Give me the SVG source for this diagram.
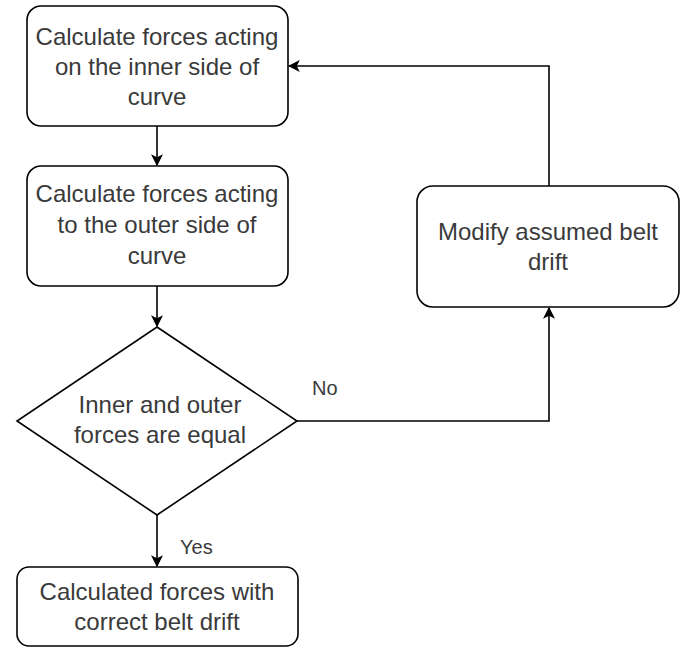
<svg xmlns="http://www.w3.org/2000/svg" width="688" height="648" viewBox="0 0 688 648">
<style>
.box{fill:#fff;stroke:#000;stroke-width:1.6}
.t{font-family:"Liberation Sans",Arial,sans-serif;font-size:24px;fill:#3a3a3a;text-anchor:middle}
.l{font-family:"Liberation Sans",Arial,sans-serif;font-size:20px;fill:#3a3a3a}
.c{fill:none;stroke:#000;stroke-width:1.6}
</style>
<defs>
<marker id="arr" viewBox="0 0 10 10" refX="9" refY="5" markerWidth="12" markerHeight="12" markerUnits="userSpaceOnUse" orient="auto">
<path d="M0,0 L10,5 L0,10 L2.5,5 Z" fill="#000"/>
</marker>
</defs>
<rect width="688" height="648" fill="#fff"/>
<g id="connectors">
<path class="c" d="M157,126 V165" marker-end="url(#arr)"/>
<path class="c" d="M157,286 V326" marker-end="url(#arr)"/>
<path class="c" d="M157,515 V566" marker-end="url(#arr)"/>
<path class="c" d="M297,421 H549 V308" marker-end="url(#arr)"/>
<path class="c" d="M549,186 V66 H289" marker-end="url(#arr)"/>
<text class="l" x="312" y="395">No</text>
<text class="l" x="180" y="554">Yes</text>
</g>
<g id="n1">
<rect class="box" x="27" y="6" width="261" height="120" rx="14"/>
<text class="t" x="157" y="45">Calculate forces acting</text>
<text class="t" x="157" y="75">on the inner side of</text>
<text class="t" x="157" y="105">curve</text>
</g>
<g id="n2">
<rect class="box" x="27" y="166" width="261" height="120" rx="14"/>
<text class="t" x="157" y="202">Calculate forces acting</text>
<text class="t" x="157" y="233">to the outer side of</text>
<text class="t" x="157" y="264">curve</text>
</g>
<g id="n3">
<polygon class="box" points="157,327 297,421 157,515 17,421"/>
<text class="t" x="160" y="413">Inner and outer</text>
<text class="t" x="160" y="443">forces are equal</text>
</g>
<g id="n4">
<rect class="box" x="17" y="567" width="281" height="79" rx="12"/>
<text class="t" x="157" y="600">Calculated forces with</text>
<text class="t" x="157" y="630">correct belt drift</text>
</g>
<g id="n5">
<rect class="box" x="417" y="186" width="262" height="121" rx="16"/>
<text class="t" x="548" y="240">Modify assumed belt</text>
<text class="t" x="548" y="270">drift</text>
</g>
</svg>
